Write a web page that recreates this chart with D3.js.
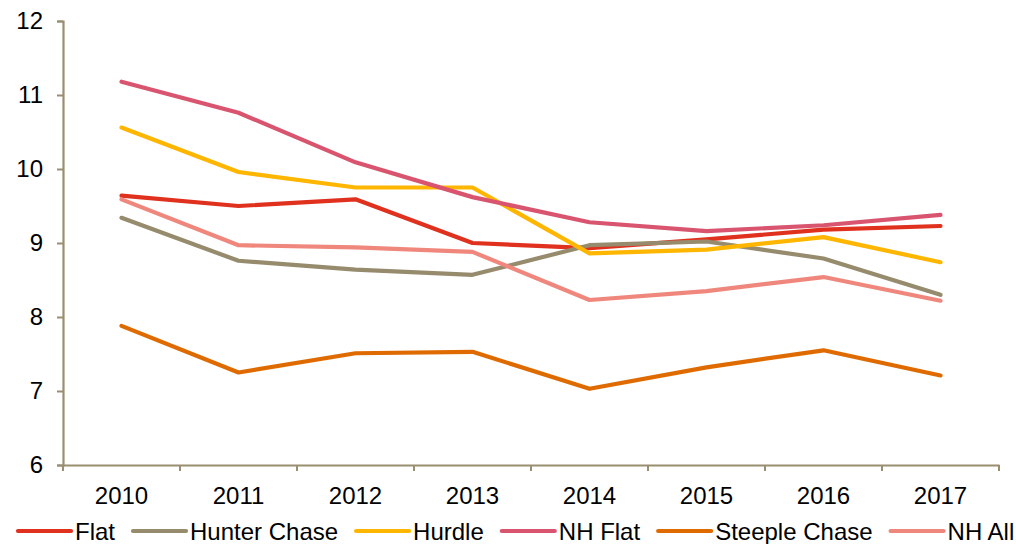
<!DOCTYPE html>
<html>
<head>
<meta charset="utf-8">
<script src="https://cdn.jsdelivr.net/npm/d3@7"></script>
<style>
  html, body { margin: 0; padding: 0; background: #fff; }
  svg { display: block; font-family: "Liberation Sans", Arial, sans-serif; }
</style>
</head>
<body>
<svg id="chart" width="1016" height="544"></svg>
<script>
// Years on the x axis
const years = ["2010", "2011", "2012", "2013", "2014", "2015", "2016", "2017"];
// Y axis tick values
const yTicks = [6, 7, 8, 9, 10, 11, 12];

// Series values, one per year
const flat         = [9.64, 9.50, 9.59, 9.00, 8.93, 9.05, 9.18, 9.23];
const hunterChase  = [9.34, 8.76, 8.64, 8.57, 8.97, 9.02, 8.79, 8.30];
const hurdle       = [10.56, 9.96, 9.75, 9.75, 8.86, 8.91, 9.08, 8.74];
const nhFlat       = [11.18, 10.76, 10.09, 9.62, 9.28, 9.16, 9.24, 9.38];
const steepleChase = [7.88, 7.25, 7.51, 7.53, 7.03, 7.32, 7.55, 7.21];
const nhAll        = [9.59, 8.97, 8.94, 8.88, 8.23, 8.35, 8.54, 8.22];

const seriesNames = ["Flat", "Hunter Chase", "Hurdle", "NH Flat", "Steeple Chase", "NH All"];
const seriesValues = [flat, hunterChase, hurdle, nhFlat, steepleChase, nhAll];
const seriesColors = ["#E0301E", "#968B6D", "#FFB600", "#D9546E", "#DF6B00", "#F0877D"];

const axisColor = "#998E70";
const svg = d3.select("#chart");
const margin = { left: 63, right: 17, top: 21, bottom: 79 };
const W = 1016, H = 544;

const x = d3.scaleBand().domain(years).range([margin.left, W - margin.right]);
const y = d3.scaleLinear().domain([6, 12]).range([H - margin.bottom, margin.top]);

// Lines (drawn in legend order)
const line = d3.line()
  .x((d, i) => x(years[i]) + x.bandwidth() / 2)
  .y(d => y(d));

seriesValues.forEach((vals, k) => {
  svg.append("path")
    .datum(vals)
    .attr("d", line)
    .attr("fill", "none")
    .attr("stroke", seriesColors[k])
    .attr("stroke-width", 4.2)
    .attr("stroke-linejoin", "round")
    .attr("stroke-linecap", "round");
});

// Y axis
const yAxis = svg.append("g")
  .attr("transform", `translate(${margin.left},0)`)
  .call(d3.axisLeft(y).tickValues(yTicks).tickFormat(d3.format("d")).tickSize(6).tickPadding(14));
// X axis
const xAxis = svg.append("g")
  .attr("transform", `translate(0,${y(6)})`)
  .call(d3.axisBottom(x).tickSize(0).tickPadding(22));

[yAxis, xAxis].forEach(g => {
  g.select(".domain").attr("stroke", axisColor).attr("stroke-width", 2.2);
  g.selectAll(".tick line").attr("stroke", axisColor).attr("stroke-width", 2);
  g.selectAll("text").attr("fill", "#000").style("font-size", "24px");
});

// Band boundary ticks along the x axis
const bounds = years.map(yr => x(yr)).concat([x(years[years.length - 1]) + x.bandwidth()]);
svg.append("g").selectAll("line").data(bounds).join("line")
  .attr("x1", d => d).attr("x2", d => d)
  .attr("y1", y(6)).attr("y2", y(6) + 6)
  .attr("stroke", axisColor).attr("stroke-width", 2);

// Legend along the bottom
const legend = svg.append("g").attr("transform", "translate(0,531)");
let lx = 18;
seriesNames.forEach((name, k) => {
  const g = legend.append("g").attr("transform", `translate(${lx},0)`);
  g.append("line").attr("x1", 0).attr("x2", 53).attr("y1", 0).attr("y2", 0)
    .attr("stroke", seriesColors[k]).attr("stroke-width", 4.2).attr("stroke-linecap", "round");
  const t = g.append("text").attr("x", 57).attr("y", 9)
    .style("font-size", "24px").attr("fill", "#000").text(name);
  lx += 57 + t.node().getComputedTextLength() + 18;
});
</script>
</body>
</html>
